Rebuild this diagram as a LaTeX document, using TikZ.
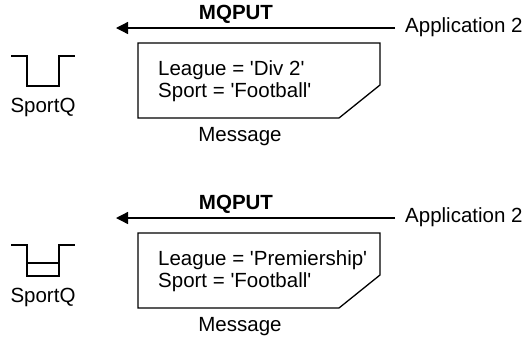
\documentclass[tikz,border=0pt]{standalone}
\usepackage{fontspec}
\setmainfont{Liberation Sans}
\usetikzlibrary{arrows.meta}
\newcommand{\sq}{\textquotesingle}
\begin{document}
\begin{tikzpicture}[x=1pt,y=-1pt,
  txt/.style={font=\fontsize{20.5}{24}\selectfont, inner sep=0pt},
  boldtxt/.style={font=\fontsize{20.5}{24}\selectfont\bfseries, inner sep=0pt},
  ln/.style={line width=1.3pt},
  putarrow/.style={ln, -{Triangle[length=12pt,width=12pt]}},
  msgbox/.style={ln, line join=miter}]
\useasboundingbox (0,0) rectangle (530,341);

\foreach \dy/\lg/\nm in {0/{League = \sq Div 2\sq}/a, 190/{League = \sq Premiership\sq}/b} {
  \begin{scope}[yshift=-\dy pt]
    % application and arrow
    \node[txt, anchor=west] (app\nm) at (405,27) {Application 2};
    \coordinate (tip\nm) at (116,28);
    \coordinate (start\nm) at (395,28);
    \draw[putarrow] (start\nm) -- (tip\nm);
    \node[boldtxt] (put\nm) at (236,14) {MQPUT};
    % message box
    \draw[msgbox] (138,43) -- (380,43) -- (380,85) -- (339,118) -- (138,118) -- cycle;
    \node[txt, anchor=base west] (lg\nm) at (158,75) {\lg};
    \node[txt, anchor=base west] (sp\nm) at (158,97) {Sport = \sq Football\sq};
    \node[txt] (msg\nm) at (240,137) {Message};
    % queue
    \node[txt] (q\nm) at (43,107) {SportQ};
  \end{scope}
}
% queue symbols
\draw[ln, line join=miter] (11,56) -- (27,56) -- (27,86) -- (59,86) -- (59,56) -- (75,56);
\draw[ln, line join=miter] (11,245) -- (27,245) -- (27,276) -- (59,276) -- (59,245) -- (75,245);
\draw[ln] (27,263) -- (59,263);
\end{tikzpicture}
\end{document}
